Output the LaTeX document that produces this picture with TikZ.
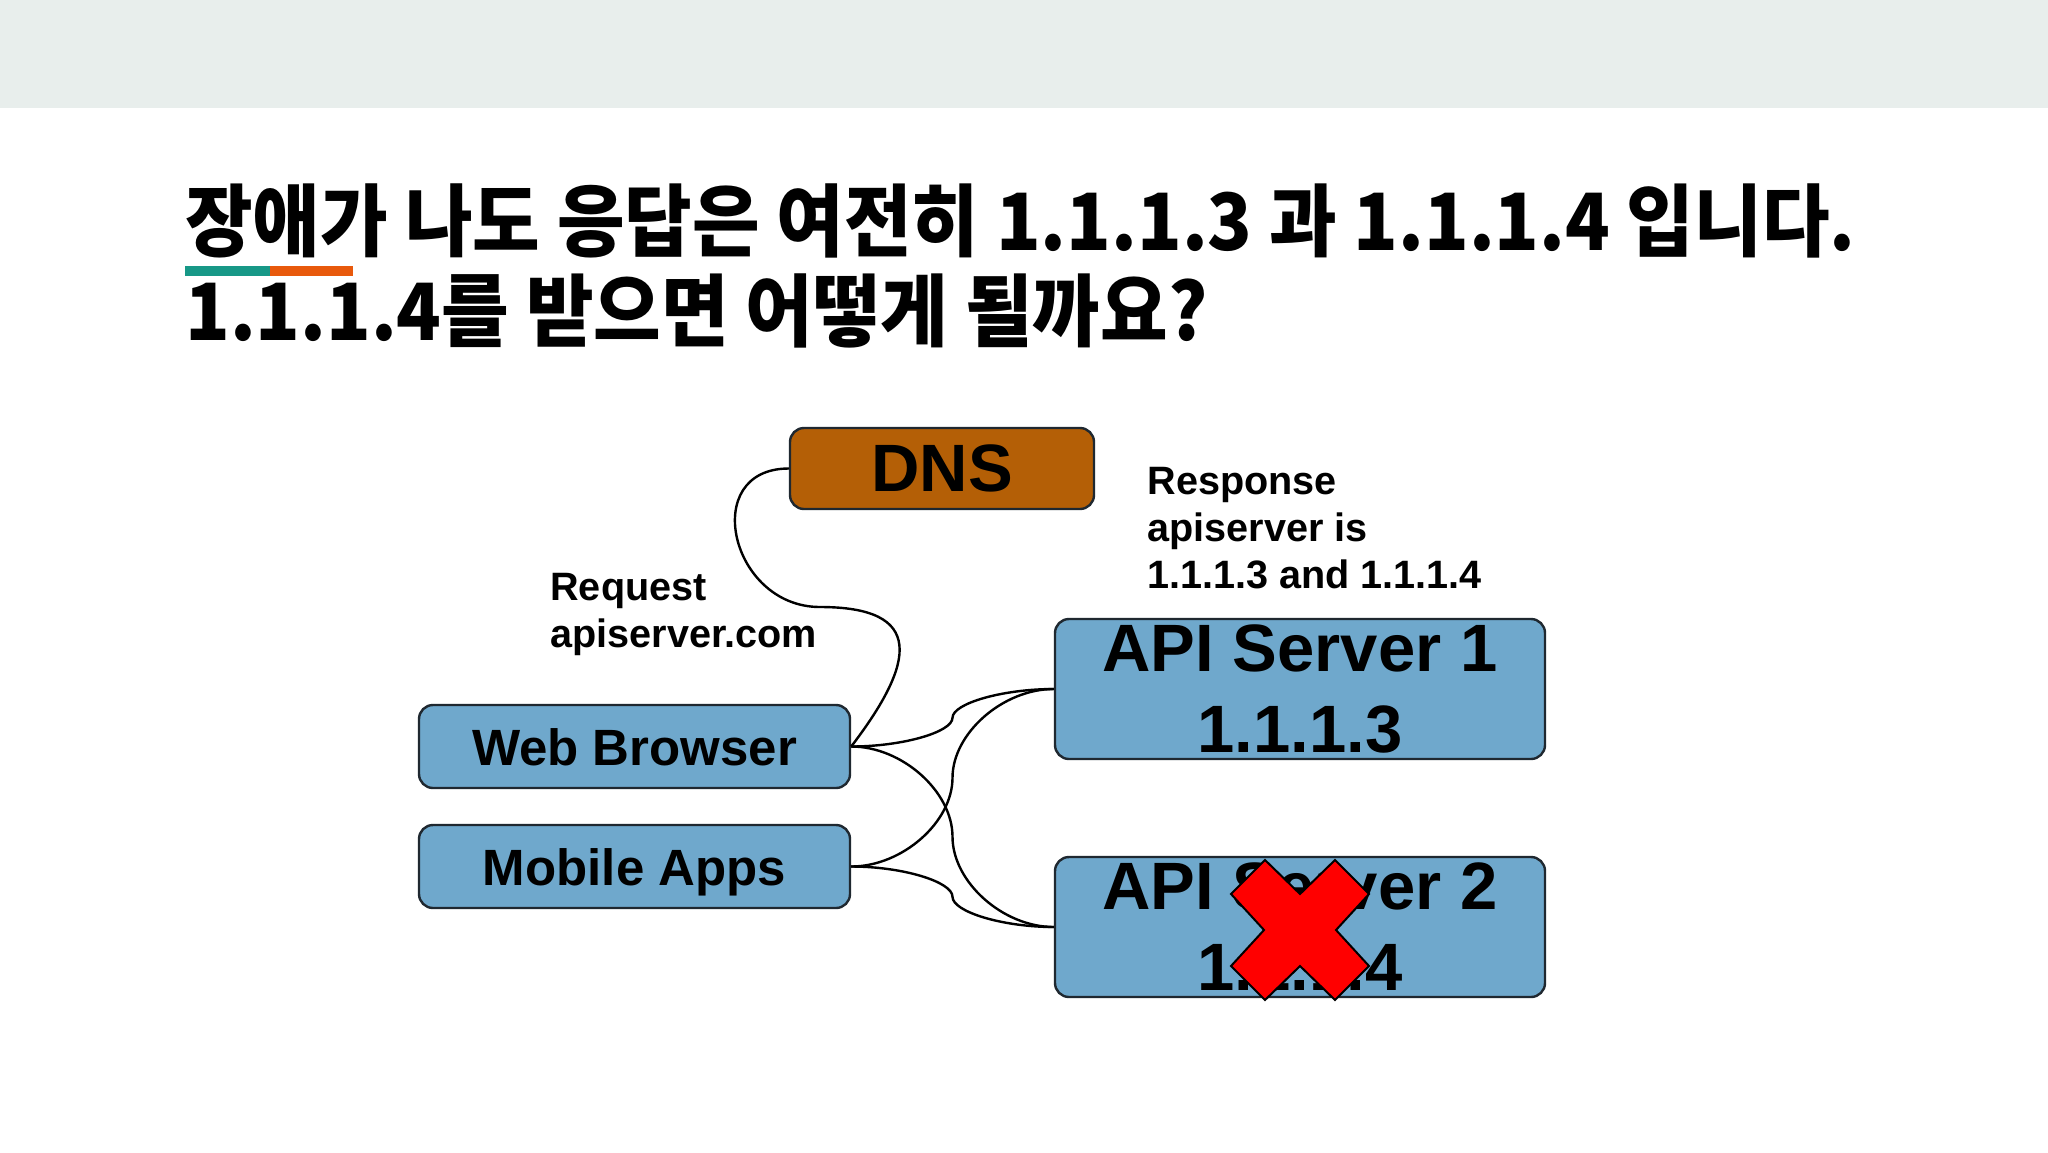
\documentclass[tikz,border=0pt]{standalone}
\usepackage{fontspec}
\setmainfont{Liberation Sans}
\newfontfamily\krfont{Noto Sans CJK KR}[FakeStretch=0.93]
\usetikzlibrary{calc}

\definecolor{bandgray}{HTML}{E8EEEC}
\definecolor{dnsorange}{HTML}{B45F06}
\definecolor{boxblue}{HTML}{6FA8CC}
\definecolor{boxline}{HTML}{1F2830}
\definecolor{barteal}{HTML}{179887}
\definecolor{barorange}{HTML}{E8590C}
\definecolor{crossred}{HTML}{FF0000}

\tikzset{
    wire/.style={draw=black,line width=1.2pt},
    titletext/.style={anchor=base west,inner sep=0pt,
        font=\krfont\bfseries\fontsize{39.5pt}{45pt}\selectfont}
}

\begin{document}
\begin{tikzpicture}[x=0.5pt,y=-0.5pt]
\useasboundingbox (0,0) rectangle (2048,1152);
\fill[white] (0,0) rectangle (2048,1152);
\fill[bandgray] (0,0) rectangle (2048,108);

% title
\node[titletext] (title1) at (185,250) {장애가 나도 응답은 여전히 1.1.1.3 과 1.1.1.4 입니다.};
\node[titletext] (title2) at (185,340) {1.1.1.4를 받으면 어떻게 될까요?};
\fill[barteal] (185,266) rectangle (270,276);
\fill[barorange] (270,266) rectangle (353,276);

\begin{scope}[every node/.style={draw=boxline,line width=1.2pt,rounded corners=7pt,
              inner sep=0pt,align=center}]
    \node[fill=dnsorange,minimum width=152pt,minimum height=40.5pt,
          font=\bfseries\fontsize{33.5pt}{40pt}\selectfont] (dns) at (942,468.5) {DNS};
    \node[fill=boxblue,minimum width=215.5pt,minimum height=41.5pt,text height=19pt,text depth=0pt,
          font=\bfseries\fontsize{25.5pt}{30pt}\selectfont] (web) at (634.5,746.5) {Web Browser};
    \node[fill=boxblue,minimum width=215.5pt,minimum height=41.5pt,text height=19pt,text depth=0pt,
          font=\bfseries\fontsize{25.5pt}{30pt}\selectfont] (mobile) at (634.5,866.5) {Mobile Apps};
    \node[fill=boxblue,minimum width=245pt,minimum height=70pt,
          font=\bfseries\fontsize{33.5pt}{40.5pt}\selectfont] (srv1) at (1300,689) {API Server 1\\1.1.1.3};
    \node[fill=boxblue,minimum width=245pt,minimum height=70pt,
          font=\bfseries\fontsize{33.5pt}{40.5pt}\selectfont] (srv2) at (1300,927) {API Server 2\\1.1.1.4};
\end{scope}

\begin{scope}[every node/.style={anchor=west,align=left,inner sep=0pt,
              font=\bfseries\fontsize{19.8pt}{23.5pt}\selectfont}]
    \node (request) at (550,614) {Request\\apiserver.com};
    \node (response) at (1147,528) {Response\\apiserver is\\1.1.1.3 and 1.1.1.4};
\end{scope}

% connectors
\coordinate (dnsbend) at (820,607);
\path[wire] (dns.west) .. controls +(-90,0) and +(-90,0) .. (dnsbend)
            .. controls +(105,0) and +(65,-85) .. (web.east);
\coordinate (m1) at ($(web.east)!0.5!(srv1.west)$);
\coordinate (m2) at ($(web.east)!0.5!(srv2.west)$);
\coordinate (m3) at ($(mobile.east)!0.5!(srv1.west)$);
\coordinate (m4) at ($(mobile.east)!0.5!(srv2.west)$);
\path[wire] (web.east) .. controls +(51,0) and +(0,14.4) .. (m1)
            .. controls +(0,-14.4) and +(-51,0) .. (srv1.west);
\path[wire] (web.east) .. controls +(51,0) and +(0,-45.1) .. (m2)
            .. controls +(0,45.1) and +(-51,0) .. (srv2.west);
\path[wire] (mobile.east) .. controls +(51,0) and +(0,44.4) .. (m3)
            .. controls +(0,-44.4) and +(-51,0) .. (srv1.west);
\path[wire] (mobile.east) .. controls +(51,0) and +(0,-15.1) .. (m4)
            .. controls +(0,15.1) and +(-51,0) .. (srv2.west);

% red cross over server 2
\begin{scope}[shift={(1300,930)}]
    \filldraw[fill=crossred,draw=black,line width=1pt]
        (-69,-36) -- (-35,-70) -- (0,-36) -- (35,-70) -- (69,-36) -- (36,0)
        -- (69,36) -- (35,70) -- (0,36) -- (-35,70) -- (-69,36) -- (-36,0) -- cycle;
\end{scope}
\end{tikzpicture}
\end{document}
